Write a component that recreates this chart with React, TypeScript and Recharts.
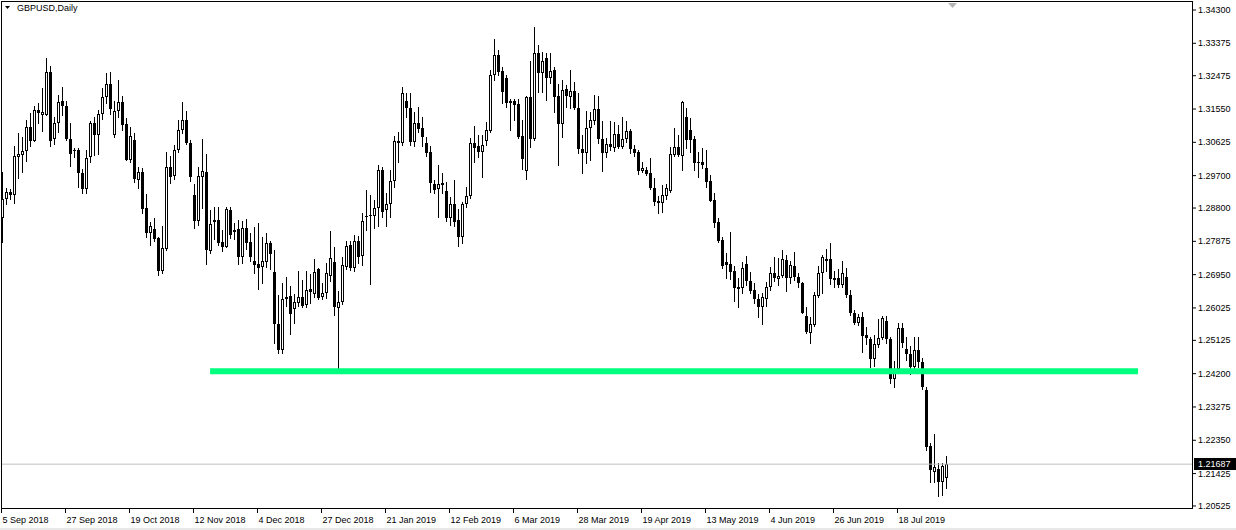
import React from 'react';
import { ComposedChart, Bar, XAxis, YAxis, ReferenceLine } from 'recharts';

// GBPUSD daily candles, 5 Sep 2018 .. 5 Aug 2019 (one entry per bar)
const opens = [
  1.28515, 1.29043, 1.29246, 1.29171, 1.30226, 1.30282, 1.30376, 1.31043, 1.30654, 1.31515,
  1.31393, 1.31393, 1.32578, 1.30726, 1.31154, 1.31765, 1.31634, 1.30718, 1.30376, 1.30412,
  1.29765, 1.29337, 1.30226, 1.31154, 1.30837, 1.31412, 1.31892, 1.32245, 1.30820, 1.31504,
  1.31745, 1.31134, 1.30135, 1.30690, 1.29579, 1.29801, 1.28801, 1.28116, 1.28210, 1.27968,
  1.27060, 1.27671, 1.29932, 1.29690, 1.30412, 1.30968, 1.31245, 1.30615, 1.29162, 1.28449,
  1.29671, 1.29801, 1.27616, 1.28421, 1.28468, 1.27857, 1.27727, 1.28746, 1.28190, 1.28218,
  1.27441, 1.28246, 1.27857, 1.27330, 1.27246, 1.27163, 1.27302, 1.27829, 1.27024, 1.25580,
  1.24858, 1.26274, 1.26358, 1.25997, 1.26163, 1.26330, 1.26108, 1.26552, 1.26413, 1.27107,
  1.26330, 1.26441, 1.26913, 1.27302, 1.26024, 1.26191, 1.27163, 1.27774, 1.27121, 1.27885,
  1.27468, 1.28551, 1.28579, 1.28588, 1.28801, 1.29857, 1.28746, 1.28913, 1.29551, 1.30615,
  1.30615, 1.31773, 1.31570, 1.30626, 1.31154, 1.31015, 1.30598, 1.30365, 1.29468, 1.29321,
  1.29440, 1.29274, 1.28515, 1.28904, 1.28468, 1.28004, 1.28913, 1.29135, 1.30598, 1.30523,
  1.30348, 1.30671, 1.30948, 1.32495, 1.33051, 1.32606, 1.32404, 1.31781, 1.31781, 1.31690,
  1.30801, 1.29829, 1.31892, 1.30709, 1.33114, 1.32559, 1.32959, 1.32420, 1.32634, 1.31912,
  1.31134, 1.32098, 1.31892, 1.32051, 1.31570, 1.30432, 1.30321, 1.31015, 1.31226, 1.31543,
  1.30709, 1.30321, 1.30579, 1.30459, 1.30857, 1.30487, 1.30718, 1.30940, 1.30432, 1.30357,
  1.29837, 1.29857, 1.29765, 1.29349, 1.28996, 1.28949, 1.29143, 1.29282, 1.30273, 1.30487,
  1.30254, 1.31337, 1.30968, 1.30718, 1.30087, 1.30079, 1.29904, 1.29560, 1.29024, 1.28413,
  1.27913, 1.27302, 1.27246, 1.27052, 1.26607, 1.26571, 1.27246, 1.26774, 1.26524, 1.26266,
  1.26060, 1.26266, 1.26616, 1.26988, 1.26821, 1.26913, 1.27357, 1.26849, 1.27191, 1.26877,
  1.26727, 1.25802, 1.25338, 1.25552, 1.26358, 1.26988, 1.27321, 1.27385, 1.26849, 1.26849,
  1.26663, 1.26877, 1.26379, 1.25894, 1.25616, 1.25766, 1.25274, 1.25155, 1.24600, 1.24997,
  1.25183, 1.25672, 1.25155, 1.24044, 1.24322, 1.25461, 1.24877, 1.24747, 1.24394, 1.24858,
  1.24533, 1.23747, 1.22192, 1.21478, 1.21544, 1.21200, 1.21295,
];

const highs = [
  1.29810, 1.29349, 1.29337, 1.30523, 1.30876, 1.30782, 1.31245, 1.31431, 1.31634, 1.31709,
  1.32126, 1.32967, 1.32745, 1.31320, 1.31940, 1.32162, 1.31773, 1.31154, 1.30459, 1.30459,
  1.29893, 1.30412, 1.31218, 1.31337, 1.31523, 1.32126, 1.32559, 1.32578, 1.31781, 1.32356,
  1.31912, 1.31301, 1.31059, 1.30876, 1.29948, 1.29904, 1.29190, 1.28421, 1.28524, 1.27982,
  1.28302, 1.30357, 1.30246, 1.30551, 1.31245, 1.31745, 1.31504, 1.30690, 1.29468, 1.29932,
  1.30709, 1.30301, 1.28746, 1.28838, 1.28838, 1.28190, 1.28838, 1.28838, 1.28385, 1.28468,
  1.28449, 1.28496, 1.28107, 1.28274, 1.28385, 1.27996, 1.28107, 1.27885, 1.27635, 1.26385,
  1.26719, 1.26885, 1.26635, 1.26413, 1.27052, 1.26802, 1.27052, 1.26969, 1.27385, 1.27135,
  1.26719, 1.27274, 1.28163, 1.27718, 1.26496, 1.27441, 1.27885, 1.27871, 1.28052, 1.28024,
  1.28663, 1.29301, 1.29162, 1.29024, 1.29996, 1.29948, 1.29226, 1.29857, 1.30801, 1.30920,
  1.32170, 1.32004, 1.31987, 1.31476, 1.31615, 1.31320, 1.30782, 1.30523, 1.29579, 1.30004,
  1.29765, 1.29532, 1.29115, 1.29579, 1.28765, 1.28976, 1.29385, 1.30737, 1.31079, 1.30829,
  1.30829, 1.31198, 1.32634, 1.33495, 1.33189, 1.32726, 1.32495, 1.31820, 1.31820, 1.31820,
  1.31245, 1.31912, 1.32892, 1.33837, 1.33328, 1.33142, 1.33098, 1.33114, 1.32726, 1.32245,
  1.32356, 1.32217, 1.32634, 1.32309, 1.31987, 1.30829, 1.31495, 1.31476, 1.31940, 1.31912,
  1.31218, 1.30737, 1.31218, 1.31198, 1.31107, 1.31337, 1.31218, 1.30987, 1.30551, 1.30412,
  1.30087, 1.29948, 1.30182, 1.29626, 1.29135, 1.29440, 1.29468, 1.30487, 1.31015, 1.30829,
  1.31760, 1.31570, 1.31293, 1.30801, 1.30365, 1.30459, 1.30412, 1.29718, 1.29226, 1.28515,
  1.28004, 1.27560, 1.28143, 1.27191, 1.26849, 1.27310, 1.27468, 1.27032, 1.26710, 1.26413,
  1.26432, 1.26755, 1.27154, 1.27449, 1.27405, 1.27635, 1.27496, 1.27338, 1.27571, 1.27005,
  1.26755, 1.26044, 1.25766, 1.26477, 1.27191, 1.27496, 1.27654, 1.27821, 1.27060, 1.27099,
  1.27338, 1.27127, 1.26524, 1.25969, 1.25858, 1.25922, 1.25488, 1.25227, 1.25274, 1.25710,
  1.25802, 1.25802, 1.25211, 1.24561, 1.25599, 1.25599, 1.25211, 1.24969, 1.25227, 1.25211,
  1.24627, 1.23839, 1.22267, 1.22525, 1.21711, 1.21711, 1.21914,
];

const lows = [
  1.27849, 1.28913, 1.29060, 1.28949, 1.29626, 1.29793, 1.30115, 1.30523, 1.30648, 1.31154,
  1.30948, 1.31384, 1.30523, 1.30579, 1.30920, 1.31376, 1.30690, 1.29976, 1.30226, 1.29393,
  1.29226, 1.29210, 1.30079, 1.30265, 1.30301, 1.31282, 1.31709, 1.31412, 1.30782, 1.31337,
  1.30968, 1.30121, 1.30087, 1.29532, 1.29349, 1.28654, 1.28004, 1.27774, 1.27893, 1.26941,
  1.27005, 1.27635, 1.29504, 1.29615, 1.30365, 1.30876, 1.30584, 1.29560, 1.28246, 1.28329,
  1.28793, 1.27238, 1.27560, 1.27932, 1.27766, 1.27616, 1.27704, 1.27968, 1.27940, 1.27238,
  1.27282, 1.27663, 1.27330, 1.26996, 1.26552, 1.26719, 1.27163, 1.27107, 1.25052, 1.24775,
  1.24775, 1.26080, 1.25302, 1.25608, 1.26080, 1.26052, 1.26052, 1.26163, 1.26330, 1.26274,
  1.26274, 1.26302, 1.26774, 1.25830, 1.24255, 1.26135, 1.27107, 1.27080, 1.27052, 1.27274,
  1.27218, 1.28190, 1.26691, 1.28246, 1.28302, 1.28560, 1.28302, 1.28560, 1.29393, 1.30087,
  1.30551, 1.31337, 1.30551, 1.30523, 1.30920, 1.30523, 1.30246, 1.29238, 1.29226, 1.28543,
  1.29210, 1.28449, 1.28321, 1.28302, 1.27746, 1.27838, 1.28829, 1.29079, 1.30087, 1.30226,
  1.29671, 1.30551, 1.30920, 1.32356, 1.32495, 1.31709, 1.31615, 1.30968, 1.31245, 1.30737,
  1.29876, 1.29599, 1.30504, 1.30690, 1.32031, 1.32031, 1.31801, 1.32265, 1.31476, 1.29996,
  1.30782, 1.31598, 1.31570, 1.31543, 1.30321, 1.29765, 1.30060, 1.30135, 1.31134, 1.30598,
  1.29837, 1.30226, 1.30412, 1.30393, 1.30459, 1.30459, 1.30643, 1.30321, 1.30246, 1.29746,
  1.29810, 1.29718, 1.29321, 1.28885, 1.28654, 1.28699, 1.29043, 1.29254, 1.30246, 1.30246,
  1.29857, 1.30459, 1.30365, 1.29857, 1.29654, 1.29904, 1.29393, 1.28995, 1.28265, 1.27865,
  1.27127, 1.26849, 1.26821, 1.26227, 1.26044, 1.26449, 1.26663, 1.26449, 1.26155, 1.25766,
  1.25580, 1.26080, 1.26524, 1.26782, 1.26663, 1.26877, 1.26505, 1.26710, 1.26802, 1.26616,
  1.25877, 1.25322, 1.25061, 1.25524, 1.26338, 1.26432, 1.27060, 1.26691, 1.26616, 1.26599,
  1.26599, 1.26321, 1.25830, 1.25580, 1.25552, 1.24811, 1.25024, 1.24394, 1.24413, 1.24933,
  1.25155, 1.25061, 1.23950, 1.23822, 1.24227, 1.24933, 1.24580, 1.24191, 1.24255, 1.24377,
  1.23766, 1.22081, 1.21200, 1.21200, 1.20803, 1.20831, 1.21017,
];

const closes = [
  1.29043, 1.29246, 1.29154, 1.30246, 1.30301, 1.30376, 1.31043, 1.30671, 1.31515, 1.31448,
  1.31468, 1.32578, 1.30671, 1.31154, 1.31737, 1.31634, 1.30709, 1.30293, 1.30412, 1.29765,
  1.29337, 1.30190, 1.31154, 1.30820, 1.31412, 1.31876, 1.32245, 1.31543, 1.31504, 1.31745,
  1.31115, 1.30135, 1.30801, 1.29599, 1.29801, 1.28782, 1.28116, 1.28302, 1.27949, 1.27060,
  1.27682, 1.29932, 1.29671, 1.30412, 1.30968, 1.31245, 1.30598, 1.29671, 1.28449, 1.29690,
  1.29821, 1.27635, 1.28357, 1.28468, 1.27821, 1.27727, 1.28782, 1.28052, 1.28135, 1.27441,
  1.28246, 1.27829, 1.27441, 1.27218, 1.27135, 1.27330, 1.27829, 1.27524, 1.25580, 1.24858,
  1.26274, 1.26330, 1.25858, 1.26191, 1.26330, 1.26080, 1.26524, 1.26469, 1.27024, 1.26302,
  1.26441, 1.26996, 1.27413, 1.26052, 1.26191, 1.27218, 1.27746, 1.27121, 1.27885, 1.27449,
  1.28440, 1.28588, 1.28607, 1.28793, 1.29857, 1.28699, 1.28913, 1.29551, 1.30662, 1.30671,
  1.31987, 1.31570, 1.30643, 1.31154, 1.31004, 1.30782, 1.30337, 1.29487, 1.29301, 1.29468,
  1.29487, 1.28515, 1.28904, 1.28421, 1.28004, 1.28904, 1.29135, 1.30615, 1.30476, 1.30365,
  1.30551, 1.30968, 1.32495, 1.33051, 1.32587, 1.32031, 1.31726, 1.31726, 1.31670, 1.30782,
  1.30154, 1.31892, 1.30709, 1.33114, 1.32559, 1.32892, 1.32420, 1.32606, 1.31892, 1.31134,
  1.32079, 1.31912, 1.32059, 1.31570, 1.30432, 1.30337, 1.31015, 1.31245, 1.31543, 1.30709,
  1.30337, 1.30579, 1.30487, 1.30857, 1.30487, 1.30709, 1.30940, 1.30432, 1.30337, 1.29837,
  1.29904, 1.29746, 1.29349, 1.28976, 1.28949, 1.29162, 1.29349, 1.30293, 1.30487, 1.30273,
  1.31737, 1.30690, 1.30690, 1.30043, 1.30043, 1.29996, 1.29532, 1.29004, 1.28393, 1.27893,
  1.27191, 1.27218, 1.27032, 1.26588, 1.26552, 1.27127, 1.26782, 1.26496, 1.26266, 1.26060,
  1.26321, 1.26616, 1.26988, 1.26849, 1.26913, 1.27377, 1.26849, 1.27218, 1.26877, 1.26727,
  1.25894, 1.25366, 1.25572, 1.26385, 1.26988, 1.27432, 1.27385, 1.26821, 1.26802, 1.26663,
  1.26988, 1.26379, 1.25894, 1.25616, 1.25766, 1.25247, 1.25183, 1.24600, 1.25024, 1.25183,
  1.25738, 1.25155, 1.24044, 1.24322, 1.25461, 1.25044, 1.24747, 1.24394, 1.24858, 1.24533,
  1.23822, 1.22156, 1.21525, 1.21617, 1.21200, 1.21636, 1.21687,
];

// time axis: a label every 16 bars
const dateTicks = [0, 16, 32, 48, 64, 80, 96, 112, 128, 144, 160, 176, 192, 208, 224];
const dateLabels = [
  '5 Sep 2018', '27 Sep 2018', '19 Oct 2018', '12 Nov 2018', '4 Dec 2018',
  '27 Dec 2018', '21 Jan 2019', '12 Feb 2019', '6 Mar 2019', '28 Mar 2019',
  '19 Apr 2019', '13 May 2019', '4 Jun 2019', '26 Jun 2019', '18 Jul 2019',
];

const priceTicks = [
  1.343, 1.33375, 1.32475, 1.3155, 1.30625, 1.297, 1.288, 1.27875,
  1.2695, 1.26025, 1.25125, 1.242, 1.23275, 1.2235, 1.21425, 1.20525,
];

const bidPrice = 1.21687;
const supportLevel = 1.2427;
const supportFromBar = 51.9;
const supportToBar = 283.9;

const data = opens.map((o, i) => ({
  i,
  o,
  h: highs[i],
  l: lows[i],
  c: closes[i],
  range: [lows[i], highs[i]],
}));

const FONT = '"Liberation Sans", Arial, sans-serif';
const W = 1236;
const H = 530;

const Candle = (props: any) => {
  const { x, y, width, height, payload } = props;
  if (x == null || y == null || !payload) return null;
  const { o, c, h, l } = payload;
  const span = h - l || 1e-9;
  const py = (v: number) => y + ((h - v) / span) * height;
  const cx = Math.floor(x + width / 2);
  const yH = Math.round(py(h));
  const yL = Math.round(py(l));
  const top = Math.round(py(Math.max(o, c)));
  let bot = Math.round(py(Math.min(o, c)));
  if (bot - top < 1) bot = top + 1;
  const up = c > o;
  return (
    <g shapeRendering="crispEdges">
      <rect x={cx} y={yH} width={1} height={Math.max(1, yL - yH + 1)} fill="#000" />
      {up && bot - top > 2 ? (
        <rect x={cx - 0.5} y={top + 0.5} width={2} height={bot - top - 1} fill="#fff" stroke="#000" strokeWidth={1} />
      ) : (
        <rect x={cx - 1} y={top} width={3} height={bot - top} fill="#000" />
      )}
    </g>
  );
};

const PriceTick = (props: any) => {
  const { x, y, payload } = props;
  return (
    <text x={x} y={y} dy={3} fontSize={9} fontFamily={FONT} fill="#000" textAnchor="start">
      {Number(payload.value).toFixed(5)}
    </text>
  );
};

const DateTick = (props: any) => {
  const { x, y, index } = props;
  return (
    <text x={x + 1} y={y + 10} fontSize={9} fontFamily={FONT} fill="#000" textAnchor="start">
      {dateLabels[index]}
    </text>
  );
};

const BidLabel = (props: any) => {
  const vb = props.viewBox;
  if (!vb) return null;
  const x0 = vb.x + vb.width + 2;
  const y0 = Math.round(vb.y);
  return (
    <g>
      <rect x={x0} y={y0 - 6} width={W - x0} height={12} fill="#000" />
      <text x={x0 + 4} y={y0 + 3} fontSize={9} fontFamily={FONT} fill="#fff">
        {bidPrice.toFixed(5)}
      </text>
    </g>
  );
};

export default function App() {
  return (
    <div style={{ position: 'absolute', left: 0, top: 0, width: W, height: H, background: '#fff' }}>
      <ComposedChart width={W} height={H} data={data} margin={{ top: 1, right: 0, bottom: 0, left: 1 }}>
        <XAxis
          type="number"
          dataKey="i"
          domain={[-0.375, 297.375]}
          allowDataOverflow
          ticks={dateTicks.map((t) => t - 0.25)}
          interval={0}
          height={22}
          axisLine={false}
          tickSize={5}
          tickMargin={0}
          tickLine={{ stroke: '#000' }}
          tick={<DateTick />}
        />
        <YAxis
          type="number"
          orientation="right"
          domain={[1.20469, 1.3455]}
          allowDataOverflow
          ticks={priceTicks}
          interval={0}
          width={44}
          axisLine={false}
          tickSize={4}
          tickMargin={2}
          tickLine={{ stroke: '#000' }}
          tick={<PriceTick />}
        />
        <ReferenceLine
          segment={[
            { x: supportFromBar, y: supportLevel },
            { x: supportToBar, y: supportLevel },
          ]}
          stroke="#00FF7F"
          strokeWidth={6}
        />
        <ReferenceLine y={bidPrice} stroke="#C0C0C0" strokeWidth={1} label={<BidLabel />} />
        <Bar dataKey="range" barSize={3} shape={<Candle />} isAnimationActive={false} />
      </ComposedChart>
      <svg width={W} height={H} style={{ position: 'absolute', left: 0, top: 0, pointerEvents: 'none' }}>
        <rect x={1.5} y={1.5} width={1191} height={507} fill="none" stroke="#000" strokeWidth={1} />
        <polygon points="5,6 10,6 7.5,9" fill="#000" />
        <text x={17} y={11} fontSize={9} fontFamily={FONT} fill="#000">GBPUSD,Daily</text>
        <polygon points="948,3 957,3 952.5,8" fill="#B4B4B4" />
        <rect x={0} y={528} width={W} height={2} fill="#E8E8E8" />
      </svg>
    </div>
  );
}
